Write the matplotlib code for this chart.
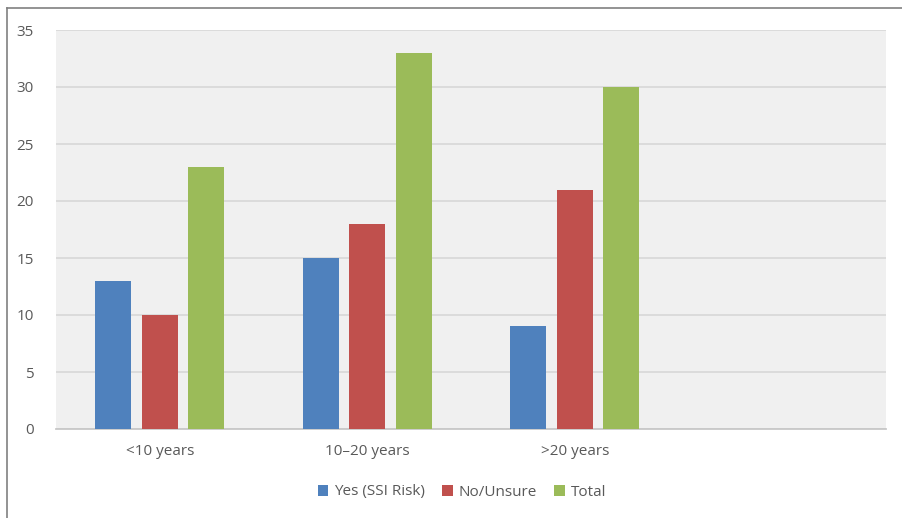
import matplotlib
matplotlib.use("Agg")
import matplotlib.pyplot as plt
from matplotlib.lines import Line2D
import numpy as np

categories = ["<10 years", "10\u201320 years", ">20 years", ""]
yes_vals = [13, 15, 9, None]
no_vals = [10, 18, 21, None]
total_vals = [23, 33, 30, None]
series_names = ["Yes (SSI Risk)", "No/Unsure", "Total"]
colors = ["#4f81bd", "#c0504d", "#9bbb59"]
yticks = [0, 5, 10, 15, 20, 25, 30, 35]

plt.rcParams['font.family'] = ['Open Sans', 'DejaVu Sans']
W, H = 902, 518
fig = plt.figure(figsize=(W/100, H/100), dpi=100)
ax = fig.add_axes([56/W, 1-429/H, (886-56)/W, (429-30)/H])
ax.set_facecolor("#f0f0f0")

x = np.arange(len(categories))
width = 0.1735
step = 0.224
for i, (vals, name, c) in enumerate(zip([yes_vals, no_vals, total_vals], series_names, colors)):
    xs = [xi + (i-1)*step for xi, v in zip(x, vals) if v is not None]
    vs = [v for v in vals if v is not None]
    ax.bar(xs, vs, width=width, color=c, label=name, zorder=3)

ax.set_xlim(-0.5, len(categories)-0.5)
ax.set_ylim(0, 35)
ax.set_yticks(yticks)
ax.set_xticks(x)
ax.set_xticklabels(categories)
ax.yaxis.grid(True, color="#d9d9d9", linewidth=1.3, zorder=0)
ax.set_axisbelow(True)
for s in ["top", "right", "left"]:
    ax.spines[s].set_visible(False)
ax.spines["bottom"].set_color("#c8c8c8")
ax.spines["bottom"].set_linewidth(1.3)
ax.tick_params(axis="both", length=0, colors="#595959", labelsize=11)
ax.tick_params(axis="y", pad=16)
ax.tick_params(axis="x", pad=11)

leg = fig.legend(loc="center", bbox_to_anchor=(462/W, 1-492/H), ncol=3, frameon=False,
                 fontsize=11, handlelength=0.7, handleheight=0.7, handletextpad=0.4,
                 columnspacing=1.1)
for t in leg.get_texts():
    t.set_color("#595959")

fig.add_artist(Line2D([7/W, 7/W], [1-8/H, 0], color="#808080", linewidth=1.2))
fig.add_artist(Line2D([7/W, 1], [1-8/H, 1-8/H], color="#808080", linewidth=1.2))

fig.savefig("out.png", dpi=100, facecolor="white")
